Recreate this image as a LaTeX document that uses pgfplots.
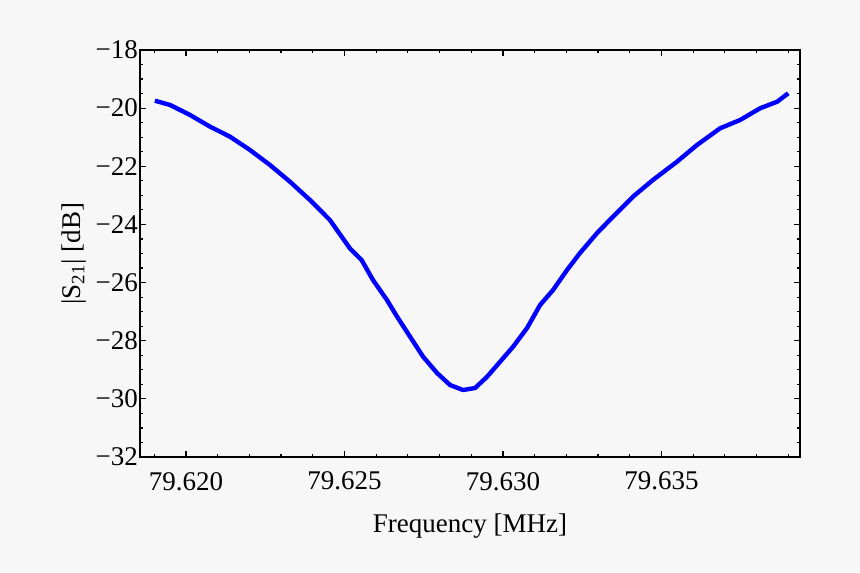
\documentclass[border=0pt]{standalone}
\usepackage{fontspec}
\setmainfont{Liberation Serif}
\usepackage{pgfplots}
\pgfplotsset{compat=1.18}
\definecolor{bg}{HTML}{F7F7F7}

\pgfplotstableread{
f        s
79.61902 -19.744
79.61950 -19.892
79.62013 -20.236
79.62076 -20.638
79.62139 -20.982
79.62202 -21.440
79.62265 -21.956
79.62328 -22.530
79.62391 -23.160
79.62454 -23.848
79.62517 -24.821
79.62554 -25.224
79.62590 -25.912
79.62634 -26.600
79.62666 -27.174
79.62707 -27.862
79.62748 -28.550
79.62792 -29.111
79.62833 -29.524
79.62874 -29.696
79.62912 -29.627
79.62950 -29.238
79.62991 -28.722
79.63032 -28.206
79.63076 -27.563
79.63117 -26.772
79.63158 -26.256
79.63202 -25.568
79.63243 -24.983
79.63297 -24.295
79.63347 -23.734
79.63410 -23.046
79.63473 -22.472
79.63549 -21.842
79.63612 -21.268
79.63685 -20.693
79.63748 -20.408
79.63811 -20.006
79.63865 -19.778
79.63900 -19.490
}\trace

\begin{document}
\begin{tikzpicture}
\fill[bg] (-70pt,-57.5pt) rectangle (360pt,228.5pt);
\begin{axis}[
    at={(0pt,0pt)}, anchor=south west,
    scale only axis, width=330pt, height=203.5pt,
    xmin=79.61855, xmax=79.63937, ymin=-32, ymax=-18,
    axis line style={line width=0.8pt},
    axis background/.style={fill=bg},
    tick align=inside,
    major tick length=3pt, minor tick length=1.6pt,
    every tick/.style={black, line width=0.6pt},
    xtick={79.620,79.625,79.630,79.635},
    xticklabels={79.620,79.625,79.630,79.635},
    minor xtick={79.619,79.621,79.622,79.623,79.624,79.626,79.627,79.628,79.629,79.631,79.632,79.633,79.634,79.636,79.637,79.638,79.639},
    ytick={-32,-30,...,-18},
    yticklabels={−32,−30,−28,−26,−24,−22,−20,−18},
    minor y tick num=3,
    scaled x ticks=false,
    tick label style={font=\fontsize{13.5}{15}\selectfont},
    label style={font=\fontsize{13.5}{15}\selectfont},
    xticklabel style={yshift=-4pt},
    yticklabel style={xshift=2.5pt},
    xlabel={Frequency [MHz]},
    ylabel={|S\textsubscript{21}| [dB]},
    xlabel style={yshift=-5pt},
    ylabel style={yshift=-2pt},
]
\addplot[color=blue, line width=2.2pt, line join=round] table[x=f, y=s] {\trace};
\end{axis}
\end{tikzpicture}
\end{document}
